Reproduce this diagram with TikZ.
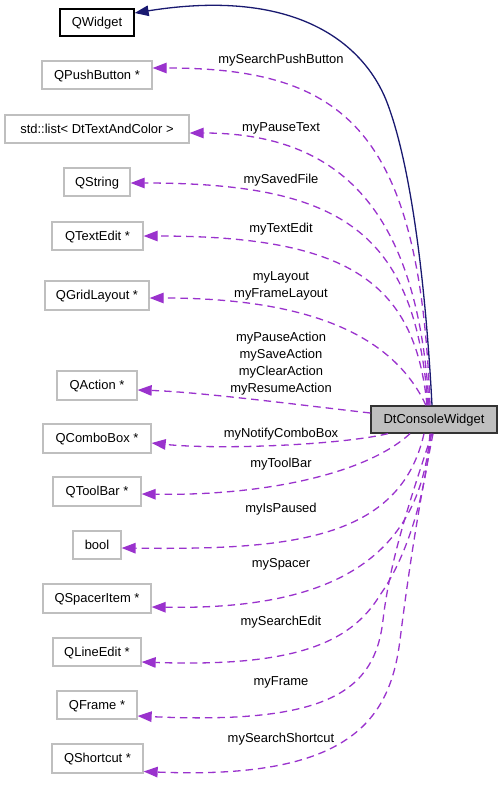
\documentclass[tikz,border=0pt]{standalone}
\usepackage{fontspec}
\setmainfont{Liberation Sans}
\usetikzlibrary{arrows.meta}
\definecolor{usecol}{HTML}{9A32CD}
\definecolor{inhcol}{HTML}{191970}
\definecolor{boxgray}{HTML}{BFBFBF}
\begin{document}
\begin{tikzpicture}[x=1bp,y=-1bp,
  every node/.style={font=\fontsize{13}{17}\selectfont, inner sep=0pt},
  txt/.style={text height=10bp, text depth=1.6bp},
  cls/.style={txt, draw=boxgray, fill=white, line width=1.3bp},
  basecls/.style={txt, draw=black, fill=white, line width=1.3bp},
  maincls/.style={txt, draw=black!80, fill=boxgray, line width=1.3bp},
  lbl/.style={txt},
  mlbl/.style={align=center},
  useedge/.style={draw=usecol, line width=1.3bp, dash pattern=on 7.5bp off 5bp,
    -{Triangle[length=14bp,width=10.5bp,fill=usecol]}},
  inhedge/.style={draw=inhcol, line width=1.3bp,
    -{Triangle[length=14bp,width=10.5bp,fill=inhcol]}}]
\useasboundingbox (0,0) rectangle (501,788);

% nodes
\node[maincls, minimum width=126bp, minimum height=27bp] (dtc) at (434,419.5) {DtConsoleWidget};
\node[basecls, minimum width=74bp, minimum height=27bp] (qw) at (97,22.5) {QWidget};
\node[cls, minimum width=110bp, minimum height=28bp] (qpb) at (97,75) {QPushButton *};
\node[cls, minimum width=184bp, minimum height=28bp] (sl) at (97,129) {std::list< DtTextAndColor >};
\node[cls, minimum width=66bp, minimum height=28bp] (qs) at (97,182) {QString};
\node[cls, minimum width=91bp, minimum height=28bp] (qte) at (97.5,236) {QTextEdit *};
\node[cls, minimum width=104bp, minimum height=29bp] (qgl) at (97,295.5) {QGridLayout *};
\node[cls, minimum width=80bp, minimum height=29bp] (qa) at (97,385.5) {QAction *};
\node[cls, minimum width=108bp, minimum height=29bp] (qcb) at (97,438.5) {QComboBox *};
\node[cls, minimum width=88bp, minimum height=29bp] (qtb) at (97,491.5) {QToolBar *};
\node[cls, minimum width=48bp, minimum height=28bp] (bl) at (97,545) {bool};
\node[cls, minimum width=108bp, minimum height=29bp] (qsi) at (97,598.5) {QSpacerItem *};
\node[cls, minimum width=88bp, minimum height=28bp] (qle) at (97,652) {QLineEdit *};
\node[cls, minimum width=80bp, minimum height=28bp] (qf) at (97,705) {QFrame *};
\node[cls, minimum width=91bp, minimum height=29bp] (qsc) at (97.5,758.5) {QShortcut *};

% edges
\draw[inhedge] ([xshift=-2bp]dtc.north) .. controls (426,290) and (412,170) .. (388,105)
   .. controls (370,55) and (310,-15) .. ([yshift=9.5bp]qw.east);
\draw[useedge] ([xshift=-4bp]dtc.north) .. controls (420,130) and (345,68) .. ([yshift=7bp]qpb.east);
\draw[useedge] ([xshift=-5bp]dtc.north) .. controls (418,210) and (340,133) .. ([yshift=-4bp]sl.east);
\draw[useedge] ([xshift=-6bp]dtc.north) .. controls (415,230) and (340,183) .. ([yshift=-1bp]qs.east);
\draw[useedge] ([xshift=-7bp]dtc.north) .. controls (415,280) and (345,236) .. (qte.east);
\draw[useedge] ([xshift=-8bp]dtc.north) .. controls (400,350) and (335,298) .. ([yshift=-2.5bp]qgl.east);
\draw[useedge] ([yshift=6.5bp]dtc.west) .. controls (300,405) and (200,392) .. ([yshift=-4.5bp]qa.east);
\draw[useedge] ([xshift=-46bp]dtc.south) .. controls (340,445) and (220,450) .. ([yshift=-4.5bp]qcb.east);
\draw[useedge] ([xshift=-24bp]dtc.south) .. controls (365,475) and (260,496) .. ([yshift=-2.5bp]qtb.east);
\draw[useedge] ([xshift=-10bp]dtc.south) .. controls (400,540) and (290,550) .. ([yshift=-3bp]bl.east);
\draw[useedge] ([xshift=-4bp]dtc.south) .. controls (420,560) and (330,610) .. ([yshift=-8.5bp]qsi.east);
\draw[useedge] ([xshift=-3bp]dtc.south) .. controls (425,500) and (405,560) .. (380,595)
   .. controls (350,645) and (290,667) .. ([yshift=-10bp]qle.east);
\draw[useedge] ([xshift=-2bp]dtc.south) .. controls (410,500) and (390,560) .. (383,620)
   .. controls (375,690) and (330,725) .. ([yshift=-11bp]qf.east);
\draw[useedge] ([xshift=-1bp]dtc.south) .. controls (420,500) and (410,560) .. (400,640)
   .. controls (390,720) and (350,780) .. ([yshift=-13bp]qsc.east);

% labels
\node[lbl] (l1) at (281,59) {mySearchPushButton};
\node[lbl] (l2) at (281,127) {myPauseText};
\node[lbl] (l3) at (281,179) {mySavedFile};
\node[lbl] (l4) at (281,228) {myTextEdit};
\node[mlbl] (l5) at (281,285.5) {myLayout\\myFrameLayout};
\node[mlbl] (l6) at (281,363.5) {myPauseAction\\mySaveAction\\myClearAction\\myResumeAction};
\node[lbl] (l7) at (281,433) {myNotifyComboBox};
\node[lbl] (l8) at (281,463) {myToolBar};
\node[lbl] (l9) at (281,508) {myIsPaused};
\node[lbl] (l10) at (281,563) {mySpacer};
\node[lbl] (l11) at (281,621) {mySearchEdit};
\node[lbl] (l12) at (281,681) {myFrame};
\node[lbl] (l13) at (281,738) {mySearchShortcut};
\end{tikzpicture}
\end{document}
